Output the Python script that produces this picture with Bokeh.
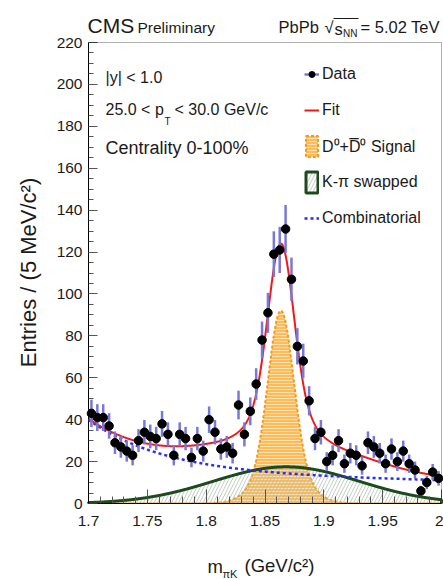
import numpy as np
from bokeh.plotting import figure
from bokeh.models import (ColumnDataSource, Legend, LegendItem, Label, FixedTicker,
                          Range1d, Arrow, LinearAxis, BoxAnnotation)
from bokeh.embed import file_html
from bokeh.resources import INLINE

# ---------------- data: m(pi K) histogram, 5 MeV/c^2 bins ----------------
bin_centers = np.round(np.arange(1.7025, 2.0, 0.005), 4)
counts = [43, 41, 41, 37, 29, 27, 25, 23, 30, 34,
          32, 31, 38, 33, 23, 33, 31, 22, 31, 25,
          40, 34, 26, 27, 24, 47, 33, 44, 57, 78,
          91, 119, 121, 131, 107, 75, 68, 49, 31, 34,
          20, 23, 30, 19, 24, 23, 18, 29, 27, 24,
          19, 26, 20, 25, 19, 16, 6, 10, 15, 12]

# ---------------- fit model parameters ----------------
# D0 signal: double Gaussian
sig_mean = 1.8635
sig_amp_core, sig_width_core = 72.0, 0.0105
sig_amp_wide, sig_width_wide = 20.0, 0.019
# K-pi swapped: broad Gaussian
swap_mean, swap_amp, swap_width = 1.868, 17.5, 0.062
# combinatorial: linear + falling exponential
comb_const, comb_slope = 14.5, 12.0
comb_exp_amp, comb_exp_decay = 25.5, 0.065

X_MIN, X_MAX = 1.7, 2.0
Y_MIN, Y_MAX = 0, 220
x_ticks = [1.7, 1.75, 1.8, 1.85, 1.9, 1.95, 2.0]
x_tick_text = ["1.7", "1.75", "1.8", "1.85", "1.9", "1.95", "2"]
x_minor = [round(1.7 + 0.01 * i, 2) for i in range(31)]
y_ticks = list(range(0, 221, 20))
y_minor = list(range(0, 221, 5))

FONT = "Liberation Sans, Arial, Helvetica, sans-serif"
INK = "#1a1a1a"

# ---------------- model curves ----------------
mass = np.linspace(X_MIN, X_MAX, 1201)


def gauss(x, amp, mu, sd):
    return amp * np.exp(-0.5 * ((x - mu) / sd) ** 2)


signal = gauss(mass, sig_amp_core, sig_mean, sig_width_core) + \
    gauss(mass, sig_amp_wide, sig_mean, sig_width_wide)
swapped = gauss(mass, swap_amp, swap_mean, swap_width)
combinatorial = comb_const - comb_slope * (mass - 1.7) + \
    comb_exp_amp * np.exp(-(mass - 1.7) / comb_exp_decay)
total = signal + swapped + combinatorial

counts_arr = np.array(counts, dtype=float)
errors = np.sqrt(counts_arr)

# ---------------- page geometry ----------------
# The plotting frame fills the whole canvas; the axes are pinned at the data
# edges so that titles and labels around the box stay inside the frame.
W, H = 443, 579
BOX_L, BOX_R, BOX_T, BOX_B = 88, 441, 42, 503      # data box in canvas pixels
px_x = (BOX_R - BOX_L) / (X_MAX - X_MIN)
px_y = (BOX_B - BOX_T) / (Y_MAX - Y_MIN)

p = figure(width=W, height=H, output_backend="svg", toolbar_location=None,
           title=None, x_axis_location=None, y_axis_location=None, min_border=0,
           x_range=Range1d(X_MIN - BOX_L / px_x, X_MAX + (W - BOX_R) / px_x),
           y_range=Range1d(Y_MIN - (H - BOX_B) / px_y, Y_MAX + BOX_T / px_y))
p.grid.visible = False
p.outline_line_color = None
p.background_fill_color = "white"
p.border_fill_color = "white"

# signal (underneath everything else)
sig_src = ColumnDataSource(dict(x=np.concatenate([mass, mass[::-1]]),
                                y=np.concatenate([signal, np.zeros_like(mass)])))
sig_r = p.patch("x", "y", source=sig_src, level="underlay",
                fill_color="#fbb040", fill_alpha=0.85,
                hatch_pattern="horizontal_line", hatch_color="white", hatch_alpha=0.55,
                hatch_scale=3, hatch_weight=1,
                line_color="#f39a1a", line_width=2, line_dash="3 2")

# K-pi swapped component, hatched; closed below zero, hidden by the mask below
floor = np.full_like(mass, -5.0)
swap_src = ColumnDataSource(dict(x=np.concatenate([mass, mass[::-1]]),
                                 y=np.concatenate([swapped, floor])))
swap_r = p.patch("x", "y", source=swap_src, level="underlay",
                 fill_color="white", fill_alpha=0.0,
                 hatch_pattern="right_diagonal_line", hatch_color="#b0bfb0",
                 hatch_alpha=0.8, hatch_scale=7, hatch_weight=1,
                 line_color="#1d4a1d", line_width=3)

# white mask for everything below y = 0
p.add_layout(BoxAnnotation(top=0, fill_color="white", fill_alpha=1.0,
                           line_alpha=0, level="glyph"))

curve_src = ColumnDataSource(dict(x=mass, comb=combinatorial, total=total))
comb_r = p.line("x", "comb", source=curve_src, line_color="#2a2aff",
                line_width=2.5, line_dash="3 3", level="annotation")
fit_r = p.line("x", "total", source=curve_src, line_color="#f01818", line_width=2,
               level="annotation")

data_src = ColumnDataSource(dict(x=bin_centers, y=counts_arr,
                                 lo=counts_arr - errors, hi=counts_arr + errors))
err_r = p.segment("x", "lo", "x", "hi", source=data_src, line_color="#7878d8",
                  line_width=2.5, level="annotation")
pts_r = p.scatter("x", "y", source=data_src, size=8.5, fill_color="black",
                  line_color="black", level="annotation")

# frame box
p.add_layout(BoxAnnotation(left=X_MIN, right=X_MAX, bottom=Y_MIN, top=Y_MAX,
                           fill_alpha=0, line_color="black", line_width=1))

# ---------------- axes pinned to the box ----------------
xaxis = LinearAxis(fixed_location=Y_MIN, bounds=(X_MIN, X_MAX),
                   ticker=FixedTicker(ticks=x_ticks, minor_ticks=x_minor))
xaxis.major_label_overrides = dict(zip(x_ticks, x_tick_text))
yaxis = LinearAxis(fixed_location=X_MIN, bounds=(Y_MIN, Y_MAX),
                   ticker=FixedTicker(ticks=y_ticks, minor_ticks=y_minor))
p.add_layout(xaxis, "below")
p.add_layout(yaxis, "left")

for ax in (xaxis, yaxis):
    ax.axis_line_color = "black"
    ax.major_tick_out = 0
    ax.minor_tick_out = 0
    ax.major_tick_line_color = "#555555"
    ax.minor_tick_line_color = "#555555"
    ax.major_label_text_font = FONT
    ax.major_label_text_font_size = "15.5px"
    ax.major_label_text_color = INK

xaxis.major_tick_in = 14
xaxis.minor_tick_in = 7
xaxis.major_label_standoff = 12
yaxis.major_tick_in = 9
yaxis.minor_tick_in = 5
yaxis.major_label_standoff = 6


# ---------------- text ----------------
def put(text, x_px, y_px, size, angle=0.0, align="left"):
    """Text centred vertically on canvas pixel row y_px, starting at x_px."""
    p.add_layout(Label(x=x_px, y=H - y_px, x_units="screen", y_units="screen",
                       text=text, text_font=FONT, text_font_size=f"{size}px",
                       text_color=INK, text_baseline="middle", text_align=align,
                       angle=angle))


# header
put("CMS", 87, 24.5, 21)
put("Preliminary", 137, 26.5, 15.5)
put("PbPb", 278, 26, 16.5)
put("√", 324, 26, 16.5)
put("s", 334, 28, 16.5)
put("NN", 342.5, 32.5, 10)
put("= 5.02 TeV", 360, 26, 16.5)
p.add_layout(Arrow(end=None, x_start=333, y_start=H - 18, x_end=358, y_end=H - 18,
                   start_units="screen", end_units="screen",
                   line_color=INK, line_width=1))

# selection text inside the box
put("|y| < 1.0", 105, 77, 16)
put("25.0 < p", 105, 109, 16)
put("T", 164, 121, 10)
put("< 30.0 GeV/c", 174, 109, 16)
put("Centrality 0-100%", 105, 147, 18)

# axis titles
put("Entries / (5 MeV/c²)", 28, 272, 22, angle=np.pi / 2, align="center")
put("m", 207, 566, 18.5)
put("πK", 222, 573, 11)
put("(GeV/c²)", 244, 565, 18.5)

# ---------------- legend ----------------
legend = Legend(items=[
    LegendItem(label="Data", renderers=[err_r, pts_r]),
    LegendItem(label="Fit", renderers=[fit_r]),
    LegendItem(label="D⁰+D̅⁰ Signal", renderers=[sig_r]),
    LegendItem(label="K-π swapped", renderers=[swap_r]),
    LegendItem(label="Combinatorial", renderers=[comb_r]),
], location=(304, H - 231),
    glyph_width=15, glyph_height=26, label_height=26, label_standoff=3,
    spacing=10, padding=0, margin=0, border_line_alpha=0,
    background_fill_alpha=0, label_text_font=FONT,
    label_text_font_size="16px", label_text_color=INK)
p.add_layout(legend)

open("out.html", "w").write(file_html(p, INLINE))
